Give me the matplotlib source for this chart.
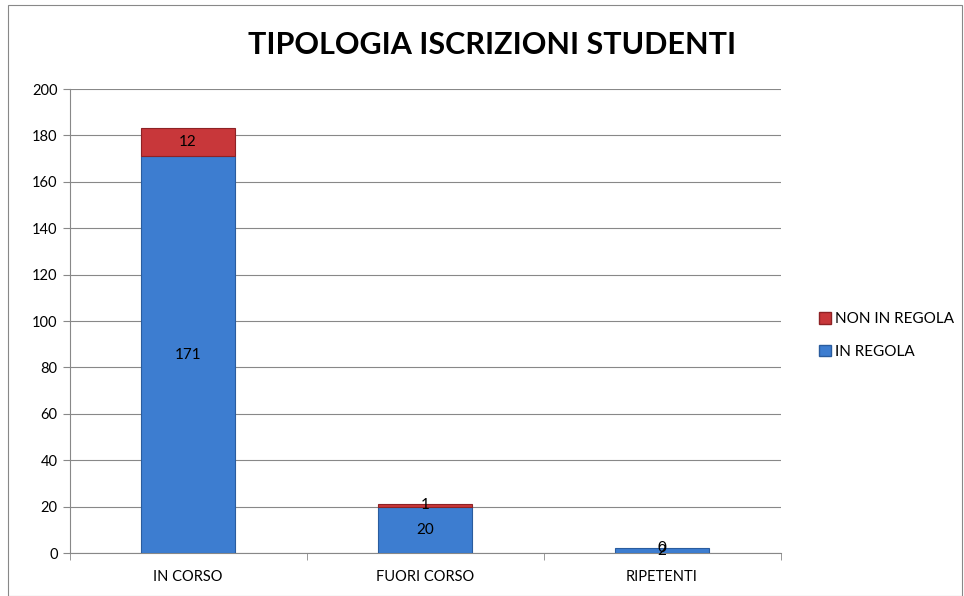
import matplotlib
matplotlib.use("Agg")
import matplotlib.pyplot as plt
from matplotlib.patches import Patch, Rectangle
import numpy as np

categories = ["IN CORSO", "FUORI CORSO", "RIPETENTI"]
in_regola = [171, 20, 2]
non_in_regola = [12, 1, 0]
series_names = ["IN REGOLA", "NON IN REGOLA"]

BLUE = "#3D7DD0"
RED = "#C8373A"

plt.rcParams["font.family"] = ["Lato", "DejaVu Sans"]

fig = plt.figure(figsize=(9.64, 5.96), dpi=100)
fig.patches.append(Rectangle((0.008, 0.0), 0.99, 0.992, transform=fig.transFigure,
                             fill=False, edgecolor="#888888", linewidth=0.8))
ax = fig.add_axes([0.0721, 0.0721, 0.7376, 0.7785])

x = np.arange(len(categories))
w = 0.4
ax.bar(x, in_regola, w, color=BLUE, edgecolor="#2A5C9E", linewidth=0.8, zorder=3)
# skip outline on empty segments so they don't show as a red line
red_lw = [0.8 if v > 0 else 0 for v in non_in_regola]
ax.bar(x, non_in_regola, w, bottom=in_regola, color=RED, edgecolor="#8E2225",
       linewidth=red_lw, zorder=3)

# data labels centered in each segment
for i in range(len(categories)):
    ax.text(x[i], in_regola[i] / 2, str(in_regola[i]), ha="center", va="center",
            fontsize=11, zorder=4)
    ax.text(x[i], in_regola[i] + non_in_regola[i] / 2, str(non_in_regola[i]),
            ha="center", va="center", fontsize=11, zorder=4)

ax.set_xlim(-0.5, len(categories) - 0.5)
ax.set_ylim(0, 200)
ax.set_yticks(range(0, 201, 20))
ax.set_xticks(x)
ax.set_xticklabels(categories)
ax.set_xticks(np.arange(-0.5, len(categories)), minor=True)
ax.tick_params(axis="x", which="major", length=0, labelsize=10.5, pad=12)
ax.tick_params(axis="x", which="minor", length=5, color="#888888")
ax.tick_params(axis="y", length=5, color="#888888", labelsize=10.5)
ax.grid(axis="y", color="#888888", linewidth=0.8, zorder=0)

for s in ["top", "right"]:
    ax.spines[s].set_visible(False)
for s in ["left", "bottom"]:
    ax.spines[s].set_color("#888888")

fig.text(0.51, 0.924, "TIPOLOGIA ISCRIZIONI STUDENTI", ha="center", va="center",
         fontsize=22, fontweight="bold")

handles = [Patch(facecolor=RED, edgecolor="#8E2225", label=series_names[1]),
           Patch(facecolor=BLUE, edgecolor="#2A5C9E", label=series_names[0])]
fig.legend(handles=handles, loc="center left", bbox_to_anchor=(0.835, 0.437),
           frameon=False, fontsize=11, handlelength=0.8, handleheight=0.8,
           handletextpad=0.3, labelspacing=1.2)

plt.savefig("out.png", dpi=100)
plt.close()
